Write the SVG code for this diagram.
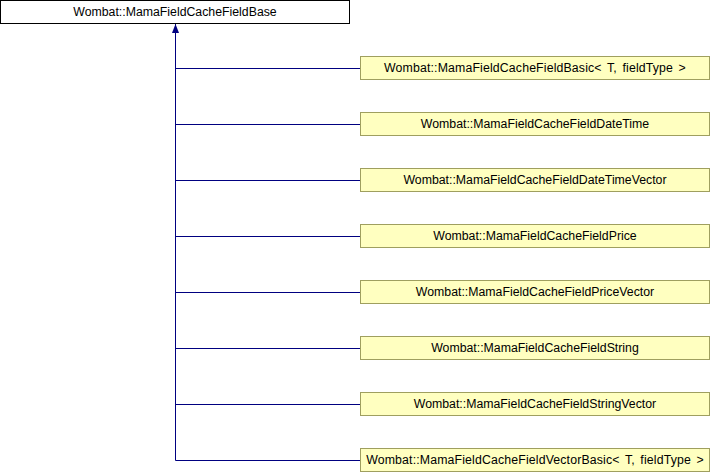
<svg xmlns="http://www.w3.org/2000/svg" width="710" height="472" viewBox="0 0 710 472">
<style>
.base{fill:#ffffff;stroke:#000000;stroke-width:1}
.child{fill:#ffffc0;stroke:#9f9f5f;stroke-width:1}
.t{font-family:"Liberation Sans",Arial,sans-serif;font-size:12.3px;fill:#000000;text-anchor:middle}
.ws{word-spacing:2px;letter-spacing:0.15px}
.c{stroke:#000080;stroke-width:1;fill:none}
</style>
<defs>
<marker id="ah" markerWidth="9" markerHeight="7" refX="9" refY="3.5" orient="auto" markerUnits="userSpaceOnUse" viewBox="0 0 9 7">
<path d="M0,0 L9,3.5 L0,7 Z" fill="#000080"/>
</marker>
</defs>
<rect width="710" height="472" fill="#ffffff"/>
<g id="connectors">
<path class="c" d="M175.5,460.5 V24" marker-end="url(#ah)"/>
<path class="c" d="M175.5,68.5 H360"/>
<path class="c" d="M175.5,124.5 H360"/>
<path class="c" d="M175.5,180.5 H360"/>
<path class="c" d="M175.5,236.5 H360"/>
<path class="c" d="M175.5,292.5 H360"/>
<path class="c" d="M175.5,348.5 H360"/>
<path class="c" d="M175.5,404.5 H360"/>
<path class="c" d="M175.5,460.5 H360"/>
</g>
<g id="base">
<rect class="base" x="0.5" y="0.5" width="349" height="23"/>
<text class="t" x="175" y="16">Wombat::MamaFieldCacheFieldBase</text>
</g>
<g id="n1"><rect class="child" x="360.5" y="56.5" width="349" height="23"/><text class="t ws" x="535" y="72">Wombat::MamaFieldCacheFieldBasic&lt; T, fieldType &gt;</text></g>
<g id="n2"><rect class="child" x="360.5" y="112.5" width="349" height="23"/><text class="t" x="535" y="128">Wombat::MamaFieldCacheFieldDateTime</text></g>
<g id="n3"><rect class="child" x="360.5" y="168.5" width="349" height="23"/><text class="t" x="535" y="184">Wombat::MamaFieldCacheFieldDateTimeVector</text></g>
<g id="n4"><rect class="child" x="360.5" y="224.5" width="349" height="23"/><text class="t" x="535" y="240">Wombat::MamaFieldCacheFieldPrice</text></g>
<g id="n5"><rect class="child" x="360.5" y="280.5" width="349" height="23"/><text class="t" x="535" y="296">Wombat::MamaFieldCacheFieldPriceVector</text></g>
<g id="n6"><rect class="child" x="360.5" y="336.5" width="349" height="23"/><text class="t" x="535" y="352">Wombat::MamaFieldCacheFieldString</text></g>
<g id="n7"><rect class="child" x="360.5" y="392.5" width="349" height="23"/><text class="t" x="535" y="408">Wombat::MamaFieldCacheFieldStringVector</text></g>
<g id="n8"><rect class="child" x="360.5" y="448.5" width="349" height="23"/><text class="t ws" x="535" y="464">Wombat::MamaFieldCacheFieldVectorBasic&lt; T, fieldType &gt;</text></g>
</svg>
